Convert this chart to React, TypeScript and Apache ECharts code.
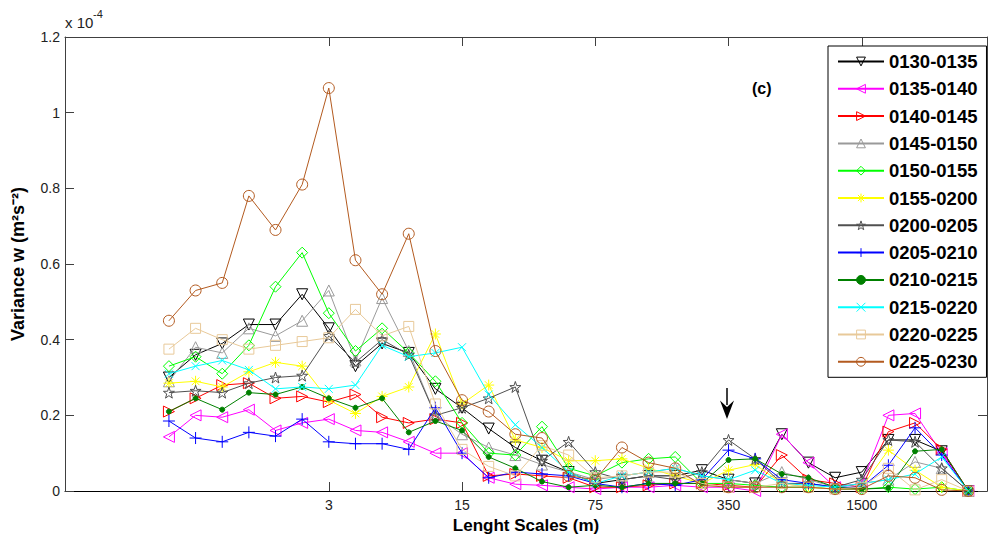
import React, { useEffect, useRef } from "react";
import * as echarts from "echarts";

// x positions are point indices (0..30); tick labels give the length scale (m)
const tickIndices = [6, 11, 16, 21, 26];
const tickLabels = ["3", "15", "75", "350", "1500"];

const periods = [
  "0130-0135", "0135-0140", "0140-0145", "0145-0150", "0150-0155", "0155-0200",
  "0200-0205", "0205-0210", "0210-0215", "0215-0220", "0220-0225", "0225-0230",
];

// variance values in units of 1e-4 m^2 s^-2
const v0130 = [0.30, 0.36, 0.39, 0.44, 0.44, 0.52, 0.43, 0.33, 0.39, 0.365, 0.27, 0.22, 0.165, 0.115, 0.08, 0.05, 0.02, 0.03, 0.04, 0.04, 0.055, 0.03, 0.02, 0.15, 0.075, 0.035, 0.05, 0.135, 0.135, 0.105, 0];
const v0135 = [0.143, 0.20, 0.195, 0.215, 0.16, 0.18, 0.19, 0.16, 0.155, 0.13, 0.10, 0.10, 0.035, 0.018, 0.015, 0.01, 0.005, 0.01, 0.01, 0.015, 0.01, 0.01, 0.0, 0.15, 0.075, 0.01, 0.02, 0.20, 0.205, 0.10, 0];
const v0140 = [0.21, 0.245, 0.28, 0.285, 0.245, 0.25, 0.235, 0.255, 0.195, 0.18, 0.19, 0.18, 0.04, 0.045, 0.04, 0.035, 0.01, 0.01, 0.015, 0.02, 0.02, 0.015, 0.01, 0.095, 0.03, 0.02, 0.01, 0.157, 0.18, 0.11, 0];
const v0145 = [0.29, 0.38, 0.365, 0.43, 0.41, 0.45, 0.53, 0.345, 0.51, 0.37, 0.20, 0.15, 0.115, 0.095, 0.07, 0.05, 0.03, 0.04, 0.05, 0.06, 0.04, 0.03, 0.02, 0.05, 0.03, 0.01, 0.02, 0.03, 0.077, 0.06, 0];
const v0150 = [0.33, 0.355, 0.31, 0.385, 0.54, 0.63, 0.47, 0.37, 0.43, 0.365, 0.29, 0.18, 0.10, 0.095, 0.17, 0.06, 0.04, 0.075, 0.085, 0.09, 0.02, 0.02, 0.015, 0.01, 0.01, 0.005, 0.005, 0.01, 0.005, 0.01, 0];
const v0155 = [0.285, 0.29, 0.275, 0.315, 0.34, 0.33, 0.24, 0.205, 0.25, 0.275, 0.415, 0.23, 0.28, 0.135, 0.115, 0.08, 0.08, 0.085, 0.06, 0.04, 0.02, 0.055, 0.07, 0.02, 0.01, 0.005, 0.01, 0.108, 0.055, 0.01, 0];
const v0200 = [0.26, 0.265, 0.26, 0.285, 0.30, 0.305, 0.41, 0.34, 0.40, 0.36, 0.20, 0.22, 0.245, 0.275, 0.08, 0.13, 0.05, 0.03, 0.04, 0.03, 0.05, 0.135, 0.085, 0.02, 0.02, 0.01, 0.03, 0.135, 0.13, 0.06, 0];
const v0205 = [0.185, 0.14, 0.13, 0.155, 0.145, 0.19, 0.13, 0.125, 0.125, 0.11, 0.22, 0.10, 0.035, 0.05, 0.045, 0.04, 0.02, 0.01, 0.02, 0.015, 0.03, 0.108, 0.085, 0.03, 0.02, 0.01, 0.01, 0.068, 0.167, 0.095, 0];
const v0210 = [0.21, 0.245, 0.215, 0.26, 0.255, 0.275, 0.245, 0.22, 0.245, 0.155, 0.185, 0.16, 0.09, 0.06, 0.025, 0.01, 0.015, 0.01, 0.02, 0.02, 0.02, 0.082, 0.085, 0.045, 0.035, 0.01, 0.005, 0.008, 0.105, 0.11, 0];
const v0215 = [0.31, 0.33, 0.345, 0.32, 0.27, 0.275, 0.27, 0.28, 0.385, 0.355, 0.365, 0.38, 0.255, 0.175, 0.115, 0.05, 0.02, 0.04, 0.05, 0.06, 0.04, 0.03, 0.055, 0.02, 0.015, 0.01, 0.02, 0.03, 0.045, 0.09, 0];
const v0220 = [0.375, 0.43, 0.40, 0.375, 0.385, 0.395, 0.405, 0.48, 0.41, 0.435, 0.23, 0.11, 0.065, 0.04, 0.12, 0.095, 0.035, 0.04, 0.05, 0.05, 0.02, 0.01, 0.01, 0.02, 0.01, 0.005, 0.01, 0.06, 0.003, 0.03, 0];
const v0225 = [0.45, 0.53, 0.55, 0.78, 0.69, 0.81, 1.065, 0.61, 0.52, 0.68, 0.37, 0.24, 0.21, 0.15, 0.14, 0.04, 0.03, 0.115, 0.075, 0.06, 0.015, 0.01, 0.01, 0.01, 0.01, 0.005, 0.005, 0.04, 0.035, 0.003, 0];

const seriesValues = [v0130, v0135, v0140, v0145, v0150, v0155, v0200, v0205, v0210, v0215, v0220, v0225];

const STAR = "path://M0,-10 L2.35,-3.24 L9.51,-3.09 L3.8,1.24 L5.88,8.09 L0,4 L-5.88,8.09 L-3.8,1.24 L-9.51,-3.09 L-2.35,-3.24 Z";
const PLUS = "path://M0,-10 L0,10 M-10,0 L10,0";
const ASTER = "path://M0,-10 L0,10 M-10,0 L10,0 M-7,-7 L7,7 M-7,7 L7,-7";
const XMARK = "path://M-10,-10 L10,10 M-10,10 L10,-10";

const styles = [
  { color: "#000000", symbol: "triangle", rot: 180, size: 11, fill: false },
  { color: "#FF00FF", symbol: "triangle", rot: 90, size: 11, fill: false },
  { color: "#FF0000", symbol: "triangle", rot: -90, size: 11, fill: false },
  { color: "#9A9A9A", symbol: "triangle", rot: 0, size: 11, fill: false },
  { color: "#00FF00", symbol: "diamond", rot: 0, size: 11, fill: false },
  { color: "#FFFF00", symbol: ASTER, rot: 0, size: 11, fill: false },
  { color: "#505050", symbol: STAR, rot: 0, size: 11, fill: false },
  { color: "#0000FF", symbol: PLUS, rot: 0, size: 12, fill: false },
  { color: "#008000", symbol: "circle", rot: 0, size: 5, fill: true },
  { color: "#00FFFF", symbol: XMARK, rot: 0, size: 8, fill: false },
  { color: "#E8C999", symbol: "rect", rot: 0, size: 10, fill: false },
  { color: "#B35A1F", symbol: "circle", rot: 0, size: 11, fill: false },
];

const FONT = '"Liberation Sans", Arial, sans-serif';

export default function App() {
  const ref = useRef<HTMLDivElement>(null);
  useEffect(() => {
    if (!ref.current) return;
    const chart = echarts.init(ref.current, null, { renderer: "svg" });
    const series = periods.map((name, k) => {
      const st = styles[k];
      return {
        name,
        type: "line",
        data: seriesValues[k].map((v, i) => [i, v]),
        symbol: st.symbol,
        symbolRotate: st.rot,
        symbolSize: st.size,
        showAllSymbol: true,
        lineStyle: { color: st.color, width: 1 },
        itemStyle: {
          color: st.fill ? st.color : "transparent",
          borderColor: st.color,
          borderWidth: 1,
        },
        emphasis: { disabled: true },
        z: 2 + k,
      };
    });
    const legendData = periods.map((name, k) => ({
      name,
      itemStyle: {
        color: styles[k].fill ? styles[k].color : "transparent",
        borderColor: styles[k].color,
        borderWidth: 1,
      },
    }));
    const labelMap: Record<number, string> = {};
    tickIndices.forEach((t, i) => (labelMap[t] = tickLabels[i]));
    chart.setOption({
      animation: false,
      backgroundColor: "#fff",
      grid: { left: 65, top: 37, right: 1, bottom: 52, containLabel: false },
      xAxis: [
        {
          type: "value",
          min: -3.9,
          max: 30.7,
          position: "bottom",
          axisLine: { show: true, onZero: false, lineStyle: { color: "#000", width: 1 } },
          axisTick: { show: true, inside: true, length: 9, customValues: tickIndices, lineStyle: { color: "#404040" } },
          axisLabel: {
            show: true,
            customValues: tickIndices,
            formatter: (v: number) => labelMap[Math.round(v)] ?? "",
            fontSize: 14,
            fontFamily: FONT,
            color: "#222",
            margin: 7,
          },
          splitLine: { show: false },
          name: "Lenght Scales (m)",
          nameLocation: "middle",
          nameGap: 22,
          nameTextStyle: { fontSize: 17, fontWeight: "bold", fontFamily: FONT, color: "#000" },
        },
        {
          type: "value",
          min: -3.9,
          max: 30.7,
          position: "top",
          axisLine: { show: true, onZero: false, lineStyle: { color: "#404040", width: 1 } },
          axisTick: { show: true, inside: true, length: 9, customValues: tickIndices, lineStyle: { color: "#404040" } },
          axisLabel: { show: false },
          splitLine: { show: false },
        },
      ],
      yAxis: [
        {
          type: "value",
          min: 0,
          max: 1.2,
          interval: 0.2,
          position: "left",
          axisLine: { show: true, onZero: false, lineStyle: { color: "#404040", width: 1 } },
          axisTick: { show: true, inside: true, length: 9, lineStyle: { color: "#404040" } },
          axisLabel: {
            formatter: (v: number) => (v === 0 ? "0" : String(+v.toFixed(1))),
            fontSize: 14,
            fontFamily: FONT,
            color: "#222",
            margin: 5,
          },
          splitLine: { show: false },
          name: "Variance w (m²s⁻²)",
          nameLocation: "middle",
          nameGap: 38,
          nameTextStyle: { fontSize: 18, fontWeight: "bold", fontFamily: FONT, color: "#000" },
        },
        {
          type: "value",
          min: 0,
          max: 1.2,
          interval: 0.2,
          position: "right",
          axisLine: { show: true, onZero: false, lineStyle: { color: "#404040", width: 1 } },
          axisTick: { show: true, inside: true, length: 9, lineStyle: { color: "#404040" } },
          axisLabel: { show: false },
          splitLine: { show: false },
        },
      ],
      legend: {
        orient: "vertical",
        left: 828,
        top: 46,
        padding: [6, 9, 6, 9],
        itemWidth: 46,
        itemHeight: 11,
        itemGap: 8.3,
        backgroundColor: "#fff",
        borderColor: "#000",
        borderWidth: 1,
        borderRadius: 0,
        data: legendData,
        textStyle: { fontSize: 18.5, fontWeight: "bold", fontFamily: FONT, color: "#000" },
        z: 20,
      },
      graphic: [
        {
          type: "text",
          x: 65,
          y: 15,
          z: 30,
          style: { text: "x 10", fontSize: 15, fontFamily: FONT, fill: "#222", align: "left", verticalAlign: "top" },
        },
        {
          type: "text",
          x: 93,
          y: 8,
          z: 30,
          style: { text: "-4", fontSize: 11, fontFamily: FONT, fill: "#222", align: "left", verticalAlign: "top" },
        },
        {
          type: "text",
          x: 752,
          y: 80,
          z: 30,
          style: { text: "(c)", fontSize: 16, fontWeight: "bold", fontFamily: FONT, fill: "#000", align: "left", verticalAlign: "top" },
        },
        {
          type: "line",
          z: 30,
          shape: { x1: 727, y1: 388, x2: 727, y2: 405 },
          style: { stroke: "#000", lineWidth: 1.5 },
        },
        {
          type: "polygon",
          z: 30,
          shape: { points: [[720, 400.5], [727, 407], [734, 400.5], [727, 419]] },
          style: { fill: "#000" },
        },
      ],
      series,
    });
    return () => chart.dispose();
  }, []);
  return <div ref={ref} style={{ position: "fixed", left: 0, top: 0, width: 988, height: 543 }} />;
}
